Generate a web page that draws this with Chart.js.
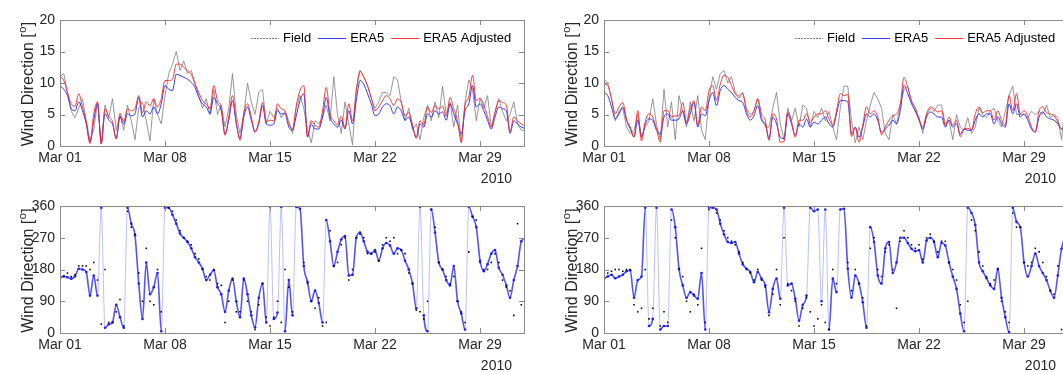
<!DOCTYPE html>
<html>
<head>
<meta charset="utf-8">
<script src="https://cdn.jsdelivr.net/npm/chart.js@4/dist/chart.umd.min.js"></script>
<style>
  body { margin: 0; background: #fff; width: 1063px; height: 372px; overflow: hidden; position: relative; }
  canvas { position: absolute; }
</style>
</head>
<body>
<canvas id="tl" width="540" height="190" style="left:0;top:0"></canvas>
<canvas id="tr" width="540" height="190" style="left:544px;top:0"></canvas>
<canvas id="bl" width="540" height="182" style="left:0;top:190px"></canvas>
<canvas id="br" width="540" height="182" style="left:544px;top:190px"></canvas>
<script>
// samples every 6 hours from Mar 01 00:00 (day 0) to Apr 01 (day 31)
const stepDays = 0.25;
const xTickDays = [0, 7, 14, 21, 28];
const xTickLabels = ['Mar 01', 'Mar 08', 'Mar 15', 'Mar 22', 'Mar 29'];
const yearLabel = '2010';
const speedTicks = [0, 5, 10, 15, 20];
const dirTicks = [0, 90, 180, 270, 360];
const seriesNames = ['Field', 'ERA5', 'ERA5 Adjusted'];

// top left
const tlField = [11.0,11.5,8.5,5.5, 4.5,6.0,7.5,4.0, 1.0,2.5,7.0,0.3, 6.5,4.5,7.5,2.5, 5.0,2.5,6.5,4.0,
  1.0,6.0,7.0,4.0, 0.8,7.5,5.0,3.5, 8.0,11.5,13.0,15.0, 12.0,13.5,11.5,12.0, 10.0,8.0,6.0,7.5,
  5.0,9.0,5.0,6.5, 3.0,6.0,11.5,5.0, 2.0,5.0,10.0,7.0, 5.0,8.5,9.0,3.5, 5.5,4.5,6.0,4.5,
  5.5,4.0,2.0,6.0, 8.0,6.0,2.5,0.5, 4.0,3.5,4.5,6.5, 4.0,11.0,5.0,2.0, 7.0,3.5,0.2,9.0,
  12.0,11.0,9.5,7.5, 6.0,7.0,8.5,8.5, 8.0,11.0,10.5,7.0, 4.0,6.0,2.5,3.5, 1.0,4.5,6.5,4.0,
  7.0,4.5,9.5,5.0, 7.0,3.0,6.5,0.5, 7.0,10.5,9.0,4.0, 7.5,6.0,8.0,3.0, 5.5,7.5,5.5,4.0,
  5.0,7.0,3.5,2.5, 2.5];
const tlEra5 = [9.6,9.0,8.0,5.9, 5.6,7.0,5.6,3.5, 0.6,4.1,6.7,0.5, 5.1,4.1,3.5,1.2, 4.6,3.5,5.1,4.8,
  5.1,7.7,4.6,5.6, 5.1,6.2,5.1,6.7, 9.6,9.0,8.8,11.4, 11.2,10.9,10.6,10.1, 9.3,7.7,6.7,6.2,
  5.1,7.7,6.7,5.6, 1.9,4.1,7.2,3.5, 1.2,4.6,6.2,4.1, 2.2,3.5,6.4,3.5, 3.3,3.5,5.6,5.1,
  5.1,3.0,2.5,4.8, 7.2,8.3,1.4,3.5, 2.7,2.7,4.6,7.7, 4.6,3.5,3.0,4.1, 2.7,5.6,3.5,7.2,
  10.4,9.8,8.3,6.7, 4.8,5.1,6.2,6.7, 6.4,5.1,6.2,5.6, 4.1,4.6,3.0,1.4, 3.5,3.0,5.1,4.6,
  5.6,5.1,5.4,4.1, 6.7,5.1,3.5,1.9, 5.6,6.7,9.6,6.2, 6.7,5.6,4.1,2.7, 4.6,6.2,5.9,5.6,
  2.0,4.0,3.5,3.0, 2.8];
const tlAdj = [11.1,10.4,8.5,6.7, 6.3,8.3,6.2,3.8, 0.4,5.1,7.0,0.3, 5.9,4.6,3.9,1.1, 5.2,3.9,5.9,5.6,
  5.9,8.0,5.3,7.0, 6.4,7.5,6.2,7.5, 10.4,10.4,10.6,13.0, 13.0,12.5,11.9,11.4, 9.8,8.5,7.2,6.7,
  5.9,9.6,7.2,6.3, 1.7,4.7,8.0,3.9, 0.9,5.2,6.7,4.6, 2.3,3.9,6.9,3.9, 4.1,4.0,6.7,5.9,
  5.6,3.5,2.7,6.4, 8.8,9.6,1.5,4.0, 3.3,3.0,5.6,9.3, 5.1,4.0,3.4,4.7, 2.9,6.7,4.0,8.8,
  11.9,10.9,9.6,7.7, 5.6,6.2,7.2,8.0, 7.5,6.4,7.5,6.9, 4.8,5.3,3.4,1.2, 4.0,3.4,6.2,5.3,
  6.4,5.9,6.3,4.7, 7.7,5.9,4.0,0.6, 6.5,7.8,11.2,7.2, 7.6,6.5,4.7,3.0, 5.3,7.2,6.9,6.5,
  2.3,4.6,4.0,3.5, 3.2];

// top right
const trField = [10.6,10.0,7.5,4.0, 5.5,6.0,3.0,2.0, 2.5,5.0,1.5,3.0, 4.0,7.5,3.5,1.0, 9.0,3.0,7.0,1.0,
  8.0,5.5,3.0,7.0, 4.0,8.0,2.5,1.0, 7.5,11.0,9.0,11.5, 12.0,10.0,11.0,8.5, 8.0,8.5,6.0,5.0,
  5.5,7.5,4.5,3.0, 3.0,6.0,8.5,3.5, 1.0,6.0,4.0,6.0, 3.0,6.5,6.0,3.0, 5.5,4.5,6.0,4.0,
  5.5,3.0,1.0,6.0, 9.5,9.5,4.0,0.5, 3.0,1.0,4.0,6.5, 8.5,7.5,6.0,2.0, 1.0,5.0,3.5,6.5,
  9.0,9.5,7.0,5.5, 4.5,2.0,5.0,6.0, 5.5,6.5,6.5,3.5, 4.0,1.0,5.0,3.0, 2.5,4.5,2.0,3.0,
  6.0,5.0,4.5,5.5, 6.0,4.0,3.0,5.5, 8.0,9.5,5.0,5.0, 5.0,4.5,5.5,5.0, 5.5,5.0,6.5,4.5,
  5.0,4.5,1.0,7.0, 5.0];
const trEra5 = [8.5,8.0,6.2,4.3, 5.1,6.2,4.1,2.7, 1.4,4.1,1.4,3.5, 4.3,4.1,2.5,1.9, 4.6,5.1,4.1,4.1,
  4.3,5.6,3.5,5.1, 6.9,3.0,5.1,4.8, 7.2,8.5,6.4,8.8, 9.6,9.0,8.5,7.7, 7.2,6.9,5.1,4.1,
  4.8,6.4,4.1,3.5, 1.2,4.6,3.5,1.4, 1.2,5.1,3.5,1.7, 3.5,3.0,4.3,3.0, 3.8,3.5,4.1,4.6,
  3.5,3.0,5.1,7.2, 7.2,7.0,1.9,3.0, 1.4,3.0,5.1,4.6, 5.1,4.1,2.2,2.7, 3.3,4.1,3.5,5.6,
  9.6,8.3,6.7,5.6, 4.1,2.7,4.6,5.4, 5.1,4.6,4.6,3.0, 4.1,3.0,3.5,1.9, 2.7,2.5,2.5,4.1,
  5.1,4.6,5.1,5.1, 3.5,4.6,3.5,3.0, 6.7,5.1,6.7,4.6, 5.1,4.1,2.7,2.2, 4.6,5.4,4.6,4.3,
  4.1,3.5,2.7,3.0, 3.2];
const trAdj = [9.8,9.6,7.5,5.1, 6.2,6.9,4.3,3.0, 1.5,5.6,0.8,3.9, 5.1,4.6,2.7,0.6, 5.6,5.6,4.6,4.8,
  4.8,6.9,3.8,5.9, 7.2,3.3,6.2,5.6, 8.8,9.6,7.2,9.8, 11.2,10.9,9.6,8.3, 7.7,8.3,5.6,4.6,
  5.6,7.5,5.1,4.1, 0.9,5.1,4.3,0.6, 0.7,5.4,3.9,1.4, 4.1,4.1,5.1,3.8, 4.6,5.1,5.1,5.6,
  4.3,3.3,5.6,8.3, 8.0,8.2,1.5,2.9, 0.6,3.3,6.2,5.1, 5.6,4.6,1.8,3.0, 4.1,4.8,5.1,6.7,
  10.9,9.3,7.2,6.1, 4.3,3.0,5.1,6.2, 5.9,5.4,5.6,3.3, 4.6,3.3,4.1,1.5, 2.7,2.8,2.6,5.1,
  6.2,5.3,5.6,5.6, 4.1,5.6,4.1,3.3, 8.0,5.6,8.3,5.1, 5.6,4.8,3.0,2.2, 5.6,6.2,5.3,5.1,
  4.8,3.8,2.7,3.0, 3.5];

// bottom left
const blField = [160,160,170,160, 165,190,190,190, 180,200,150,25, 180,30,30,60, 95,20,345,300,
  280,170,90,240, 90,80,180,60, 360,355,345,320, 290,270,260,250, 225,210,180,160,
  150,180,140,135, 30,90,150,60, 60,150,90,60, 10,80,140,45, 20,45,90,30,
  180,130,60,360, 360,200,140,90, 70,100,20,30, 290,190,200,250, 270,150,180,270,
  280,270,225,225, 230,205,250,270, 260,270,225,235, 225,170,140,65, 60,40,90,350,
  300,200,180,160, 140,160,90,60, 30,230,330,320, 200,180,180,200, 225,200,150,130,
  120,50,310,80, 290];
const blEra5 = [156,161,158,154, 161,182,180,173, 106,163,106,355, 15,25,30,80, 45,15,355,310,
  277,140,40,200, 110,130,170,5, 355,355,335,310, 282,270,258,240, 215,200,182,150,
  165,178,130,110, 60,120,154,90, 45,154,110,50, 16,100,140,30, 358,40,58,357,
  5,150,50,357, 352,190,145,90, 120,85,30,320, 260,190,230,265, 275,163,165,270,
  285,260,230,225, 235,205,240,255, 248,225,240,235, 205,180,140,70, 358,50,5,350,
  285,200,180,150, 135,190,90,55, 10,358,330,300, 205,175,195,225, 235,185,165,135,
  100,150,190,260, 268];

// bottom right
const brField = [170,170,175,180, 180,175,180,180, 80,60,70,180, 40,70,360,20, 60,30,320,270,
  180,160,90,60, 110,80,240,30, 350,360,340,320, 290,270,260,250, 230,200,180,170,
  150,180,150,130, 50,110,180,80, 270,140,120,90, 20,70,100,60, 20,40,80,30,
  10,180,140,360, 360,200,120,180, 140,100,20,240, 270,180,160,230, 250,180,70,260,
  290,270,250,240, 250,210,270,280, 260,230,260,260, 200,180,150,80, 30,90,320,290,
  230,190,160,140, 150,180,90,60, 30,340,300,300, 200,190,200,240, 230,200,160,120,
  110,190,10,270, 290];
const brEra5 = [155,160,165,155, 160,165,175,178, 100,150,160,355, 20,40,355,10, 20,20,350,300,
  182,135,100,116, 106,97,170,10, 355,355,350,310, 280,258,255,258, 225,195,182,173,
  144,173,154,135, 59,125,154,97, 355,135,140,97, 35,80,106,355, 345,350,90,350,
  10,154,116,350, 352,182,100,163, 140,87,15,300, 258,163,140,240, 258,170,200,270,
  270,255,239,232, 235,200,262,270, 258,215,255,248, 200,160,125,55, 5,355,340,306,
  200,175,155,135, 125,182,100,45, 3,355,315,300, 200,160,190,225, 190,170,150,120,
  100,163,239,270, 275];

const family = '"Liberation Sans", Arial, sans-serif';
const ink = '#262626';
const pts = arr => arr.map((v, i) => ({ x: i * stepDays, y: v }));

const matlabAxes = {
  id: 'matlabAxes',
  afterDraw(chart, args, opts) {
    const { ctx, chartArea: a, scales: { x, y } } = chart;
    ctx.save();
    ctx.strokeStyle = '#8a8a8a';
    ctx.lineWidth = 1;
    ctx.strokeRect(a.left + 0.5, a.top + 0.5, a.right - a.left, a.bottom - a.top);
    ctx.beginPath();
    x.ticks.forEach(t => {
      const px = Math.round(x.getPixelForValue(t.value)) + 0.5;
      ctx.moveTo(px, a.bottom); ctx.lineTo(px, a.bottom - 5);
      ctx.moveTo(px, a.top); ctx.lineTo(px, a.top + 5);
    });
    y.ticks.forEach(t => {
      const py = Math.round(y.getPixelForValue(t.value)) + 0.5;
      ctx.moveTo(a.left, py); ctx.lineTo(a.left + 5, py);
      ctx.moveTo(a.right, py); ctx.lineTo(a.right - 5, py);
    });
    ctx.stroke();

    // year under the right end of the time axis
    ctx.fillStyle = ink;
    ctx.font = '14px ' + family;
    ctx.textAlign = 'right';
    ctx.textBaseline = 'middle';
    ctx.fillText(yearLabel, a.right - 12, a.bottom + 33);

    // y title with superscript o
    ctx.save();
    ctx.translate(a.left - 31, (a.top + a.bottom) / 2 + 1);
    ctx.rotate(-Math.PI / 2);
    const big = '16px ' + family, small = '11px ' + family;
    ctx.font = big; const w1 = ctx.measureText('Wind Direction [').width; const w3 = ctx.measureText(']').width;
    ctx.font = small; const w2 = ctx.measureText('o').width + 1;
    let x0 = -(w1 + w2 + w3) / 2;
    ctx.textAlign = 'left';
    ctx.font = big; ctx.fillText('Wind Direction [', x0, 0);
    ctx.font = small; ctx.fillText('o', x0 + w1 + 0.5, -6);
    ctx.font = big; ctx.fillText(']', x0 + w1 + w2, 0);
    ctx.restore();

    if (opts.legend) {
      ctx.font = '13px ' + family;
      ctx.textAlign = 'left';
      ctx.textBaseline = 'middle';
      const ly = a.top + 18;
      let lx = a.left + 191;
      chart.data.datasets.forEach((ds, i) => {
        ctx.beginPath();
        ctx.strokeStyle = ds.borderColor;
        ctx.lineWidth = 1;
        ctx.setLineDash(i === 0 ? [2, 1] : []);
        ctx.moveTo(lx, ly + 0.5); ctx.lineTo(lx + 28, ly + 0.5);
        ctx.stroke();
        ctx.setLineDash([]);
        ctx.fillStyle = '#000';
        ctx.fillText(ds.label, lx + 32, ly);
        lx += 32 + ctx.measureText(ds.label).width + 7;
      });
    }
    ctx.restore();
  }
};

function panel(id, datasets, yTicks, legend, padTop, axisH) {
  const font = { family, size: 14 };
  new Chart(document.getElementById(id), {
    type: 'line',
    data: { datasets },
    options: {
      responsive: false,
      animation: false,
      layout: { padding: { top: padTop, right: 16, left: 0, bottom: 0 } },
      plugins: { legend: { display: false }, tooltip: { enabled: false }, matlabAxes: { legend } },
      scales: {
        x: {
          type: 'linear', min: 0, max: 30.93,
          afterBuildTicks: s => { s.ticks = xTickDays.map(v => ({ value: v })); },
          afterFit: s => { s.height = axisH; },
          grid: { display: false, drawTicks: false },
          border: { display: false },
          ticks: { callback: v => xTickLabels[xTickDays.indexOf(v)], autoSkip: false, maxRotation: 0, padding: 4, color: ink, font }
        },
        y: {
          min: yTicks[0], max: yTicks[yTicks.length - 1],
          afterBuildTicks: s => { s.ticks = yTicks.map(v => ({ value: v })); },
          afterFit: s => { s.width = 60; },
          grid: { display: false, drawTicks: false },
          border: { display: false },
          ticks: { padding: 5, color: ink, font }
        }
      }
    },
    plugins: [matlabAxes]
  });
}

function speedSets(field, era5, adj) {
  return [
    { label: seriesNames[0], data: pts(field), borderColor: '#7d7d7d', borderWidth: 0.8, pointRadius: 0, order: 3 },
    { label: seriesNames[1], data: pts(era5), borderColor: 'rgba(35,35,255,0.9)', borderWidth: 1, pointRadius: 0,
      cubicInterpolationMode: 'monotone', order: 2 },
    { label: seriesNames[2], data: pts(adj), borderColor: 'rgba(255,35,35,0.9)', borderWidth: 1, pointRadius: 0,
      cubicInterpolationMode: 'monotone', order: 1 }
  ];
}

function dirSets(field, era5) {
  return [
    { label: seriesNames[0], data: pts(field), showLine: false, pointStyle: 'rect', pointRadius: 1.1,
      pointBackgroundColor: '#000', pointBorderWidth: 0, order: 1 },
    { label: seriesNames[1], data: pts(era5), borderWidth: 1.6, borderColor: 'rgba(40,40,255,0.8)',
      cubicInterpolationMode: 'monotone',
      segment: { borderColor: c => Math.abs(c.p1.parsed.y - c.p0.parsed.y) > 200 ? 'rgba(70,70,255,0.35)' : 'rgba(40,40,255,0.8)',
                 borderWidth: c => Math.abs(c.p1.parsed.y - c.p0.parsed.y) > 200 ? 1 : 1.6 },
      pointRadius: 1.3, pointBackgroundColor: '#1e1eff', pointBorderWidth: 0, order: 2 }
  ];
}

panel('tl', speedSets(tlField, tlEra5, tlAdj), speedTicks, true, 20, 44);
panel('tr', speedSets(trField, trEra5, trAdj), speedTicks, true, 20, 44);
panel('bl', dirSets(blField, blEra5), dirTicks, false, 16, 39);
panel('br', dirSets(brField, brEra5), dirTicks, false, 16, 39);
</script>
</body>
</html>
